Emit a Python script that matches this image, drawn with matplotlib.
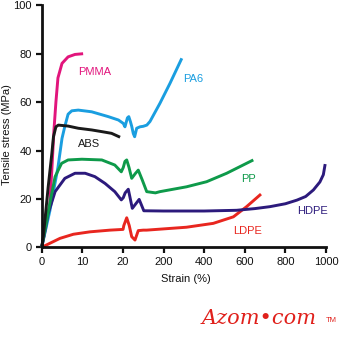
import numpy as np
import matplotlib
matplotlib.use("Agg")
import matplotlib.pyplot as plt
from matplotlib import font_manager

# ---------------- data ----------------
x_ticks = [0, 10, 20, 200, 400, 600, 800, 1000]
y_ticks = [0, 20, 40, 60, 80, 100]

pmma_strain = [0, 1, 2.0, 2.5, 3.0, 3.5, 4.0, 5.0, 6.5, 8.2, 10.2]
pmma_stress = [0, 8, 18, 32, 48, 60, 70, 76, 78.7, 79.7, 80]

pa6_strain = [0, 2, 4, 5, 5.7, 6.5, 7.4, 9, 12.3, 16.4, 18.9, 21.6, 29, 40, 46, 53, 59, 66, 72, 81, 96, 110, 126, 140, 184, 232, 290]
pa6_stress = [0, 15, 33, 45, 50, 55, 56.4, 56.7, 56, 54, 52.6, 51.2, 49.8, 53.5, 54, 52, 50, 47, 45.7, 49.2, 49.8, 50, 50.5, 52, 59.5, 67.8, 78.1]

abs_strain = [0, 0.4, 1.6, 2.5, 2.9, 3.5, 4.1, 6.5, 9.0, 12.3, 14.8, 17.2, 19.3]
abs_stress = [0, 4.4, 25, 38.8, 45.7, 49.8, 50.5, 50.1, 49.2, 48.5, 47.8, 47.1, 45.5]

pp_strain = [0, 1, 2.0, 3.3, 4.9, 6.5, 9.9, 14.8, 18.0, 19.6, 21.6, 29, 36.8, 47, 58.9, 75, 88, 105, 125.5, 164, 184, 313, 412, 511, 642]
pp_stress = [0, 9, 18.2, 29.2, 34.7, 36.1, 36.4, 36.1, 34, 31.2, 33, 35.5, 36.1, 33, 28.5, 30.5, 31.9, 28, 23, 22.5, 23, 25, 27.1, 30.6, 36.1]

hdpe_strain = [0, 1.6, 3.3, 5.7, 8.2, 10.7, 13.1, 15.6, 18.0, 19.6, 21.6, 30, 43.8, 61.6, 92, 112.6, 200, 400, 560, 650, 724, 800, 857, 900, 938, 970, 987, 996]
hdpe_stress = [0, 14, 23, 28.5, 30.6, 30.6, 29.2, 26.4, 23, 19.6, 20.5, 22.5, 24, 16.1, 19.8, 15.1, 15, 15, 15.3, 16, 16.8, 18, 19.5, 21, 23.7, 27, 30, 34.4]

ldpe_strain = [0, 2.0, 4.5, 7.8, 11.9, 16.8, 20.5, 24, 36.8, 48, 58.9, 73.5, 88, 110, 125, 313, 445, 544, 609, 680]
ldpe_stress = [0, 1.65, 3.7, 5.4, 6.4, 7.1, 7.4, 9, 12.2, 9, 4.4, 3, 6.9, 7.1, 7.1, 8.3, 9.9, 12.6, 16.8, 22]

# ---------------- style ----------------
names = {f.name for f in font_manager.fontManager.ttflist}
base_font = "Liberation Sans" if "Liberation Sans" in names else "DejaVu Sans"
narrow_font = "Liberation Sans Narrow" if "Liberation Sans Narrow" in names else base_font
plt.rcParams["font.family"] = [base_font, "DejaVu Sans"]

C_PMMA = "#e2157c"
C_PA6 = "#1a9ee0"
C_ABS = "#1a1a1a"
C_PP = "#0e9a4a"
C_HDPE = "#2c1a7c"
C_LDPE = "#e8261f"

fig = plt.figure(figsize=(3.39, 3.40), dpi=100)
ax = fig.add_axes([0.1230, 0.2726, 0.8386, 0.7118])

tick_pos = np.arange(len(x_ticks), dtype=float)
def fwd(x):
    return np.interp(x, x_ticks, tick_pos)
def inv(u):
    return np.interp(u, tick_pos, x_ticks)
ax.set_xscale("function", functions=(fwd, inv))

lw = 2.1
ax.plot(pmma_strain, pmma_stress, color=C_PMMA, lw=lw, clip_on=False, solid_capstyle="butt")
ax.plot(pa6_strain, pa6_stress, color=C_PA6, lw=lw, clip_on=False, solid_capstyle="butt")
ax.plot(ldpe_strain, ldpe_stress, color=C_LDPE, lw=lw, clip_on=False, solid_capstyle="butt")
ax.plot(hdpe_strain, hdpe_stress, color=C_HDPE, lw=lw, clip_on=False, solid_capstyle="butt")
ax.plot(pp_strain, pp_stress, color=C_PP, lw=lw, clip_on=False, solid_capstyle="butt")
ax.plot(abs_strain, abs_stress, color=C_ABS, lw=lw, clip_on=False, solid_capstyle="butt")

ax.set_xlim(0, 1000)
ax.set_ylim(0, 100)
ax.set_xticks(x_ticks)
ax.set_xticklabels([str(v) for v in x_ticks])
ax.set_yticks(y_ticks)
ax.set_yticklabels([str(v) for v in y_ticks])
ax.xaxis.set_minor_locator(matplotlib.ticker.NullLocator())

for s in ["top", "right"]:
    ax.spines[s].set_visible(False)
for s in ["left", "bottom"]:
    ax.spines[s].set_linewidth(2.0)
    ax.spines[s].set_color("#111111")
ax.tick_params(axis="both", direction="out", length=4.3, width=1.6, color="#111111",
               labelsize=8, pad=3, labelcolor="#111111")
for lab in ax.get_yticklabels():
    lab.set_family(narrow_font)

fs = 8
ax.text(fwd(5), 0, "")
def lab(x_px, y_px, s, c):
    fig.text(x_px / 339, 1 - y_px / 340, s, color=c, fontsize=fs, ha="center", va="center")

lab(95, 72, "PMMA", C_PMMA)
lab(193, 79, "PA6", C_PA6)
lab(89, 144, "ABS", C_ABS)
lab(249, 178.5, "PP", C_PP)
lab(313, 211, "HDPE", C_HDPE)
lab(248, 231, "LDPE", C_LDPE)

fig.text(7 / 339, 1 - 135 / 340, "Tensile stress (MPa)", rotation=90, fontsize=fs,
         ha="center", va="center", color="#111111")
fig.text(186 / 339, 1 - 279 / 340, "Strain (%)", fontsize=fs, ha="center", va="center", color="#111111")

# logo
fig.text(259 / 339, 1 - 318 / 340, "Azom\u2022com", fontsize=15, color="#e0201b",
         family="DejaVu Serif", style="italic", ha="center", va="center")
fig.text(331 / 339, 1 - 321 / 340, "TM", fontsize=5.5, color="#e0201b", ha="center", va="center")

fig.savefig("out.png", dpi=100)
